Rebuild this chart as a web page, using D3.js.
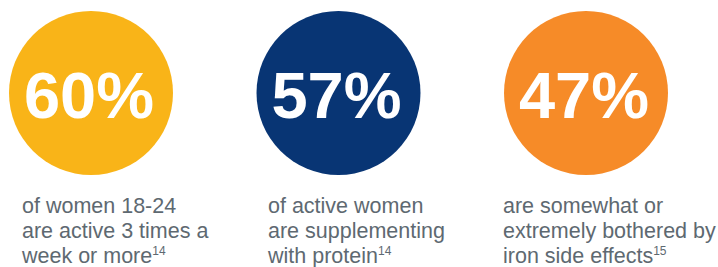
<!DOCTYPE html>
<html>
    <head>
        <meta charset="utf-8" />
        <title>Active women stats</title>
        <script src="https://d3js.org/d3.v7.min.js"></script>
        <style>
            body {
                margin: 0;
                padding: 0;
                background: #ffffff;
                font-family: "Liberation Sans", Arial, sans-serif;
            }
            svg {
                display: block;
            }
        </style>
    </head>
    <body>
        <svg id="chart" width="718" height="267"></svg>

        <script>
            // Data
            const stats = ["stat1", "stat2", "stat3"];
            const percents = [60, 57, 47];
            const captions = [
                ["of women 18-24", "are active 3 times a", "week or more"],
                ["of active women", "are supplementing", "with protein"],
                ["are somewhat or", "extremely bothered by", "iron side effects"],
            ];
            const footnotes = ["14", "14", "15"];
            const fills = ["#f9b418", "#083574", "#f68b28"];

            // Layout
            const width = 718;
            const height = 267;
            const radius = 82;
            const centerY = 93;
            const labelX = [22, 268, 503];

            const svg = d3.select("#chart");

            const x = d3
                .scalePoint()
                .domain(stats)
                .range([91, 586]);

            const color = d3.scaleOrdinal().domain(stats).range(fills);

            const groups = svg
                .selectAll(".stat")
                .data(stats)
                .enter()
                .append("g")
                .attr("class", "stat");

            // Circles
            groups
                .append("circle")
                .attr("cx", (d) => x(d))
                .attr("cy", centerY)
                .attr("r", radius)
                .style("fill", (d) => color(d));

            // Big percentage
            groups
                .append("text")
                .attr("x", (d) => x(d) - 2)
                .attr("y", 117.5)
                .attr("text-anchor", "middle")
                .style("fill", "#ffffff")
                .style("font-weight", "bold")
                .style("font-size", "65px")
                .text((d, i) => percents[i] + "%");

            // Captions
            const caption = groups
                .append("text")
                .attr("x", (d, i) => labelX[i])
                .attr("y", 213)
                .style("fill", "#5e6971")
                .style("font-size", "21.5px");

            caption.each(function (d, i) {
                const t = d3.select(this);
                captions[i].forEach((line, j) => {
                    t.append("tspan")
                        .attr("x", labelX[i])
                        .attr("y", 213 + j * 25)
                        .text(line);
                });
                t.append("tspan")
                    .attr("dy", -8)
                    .style("font-size", "12px")
                    .text(footnotes[i]);
            });
        </script>
    </body>
</html>
